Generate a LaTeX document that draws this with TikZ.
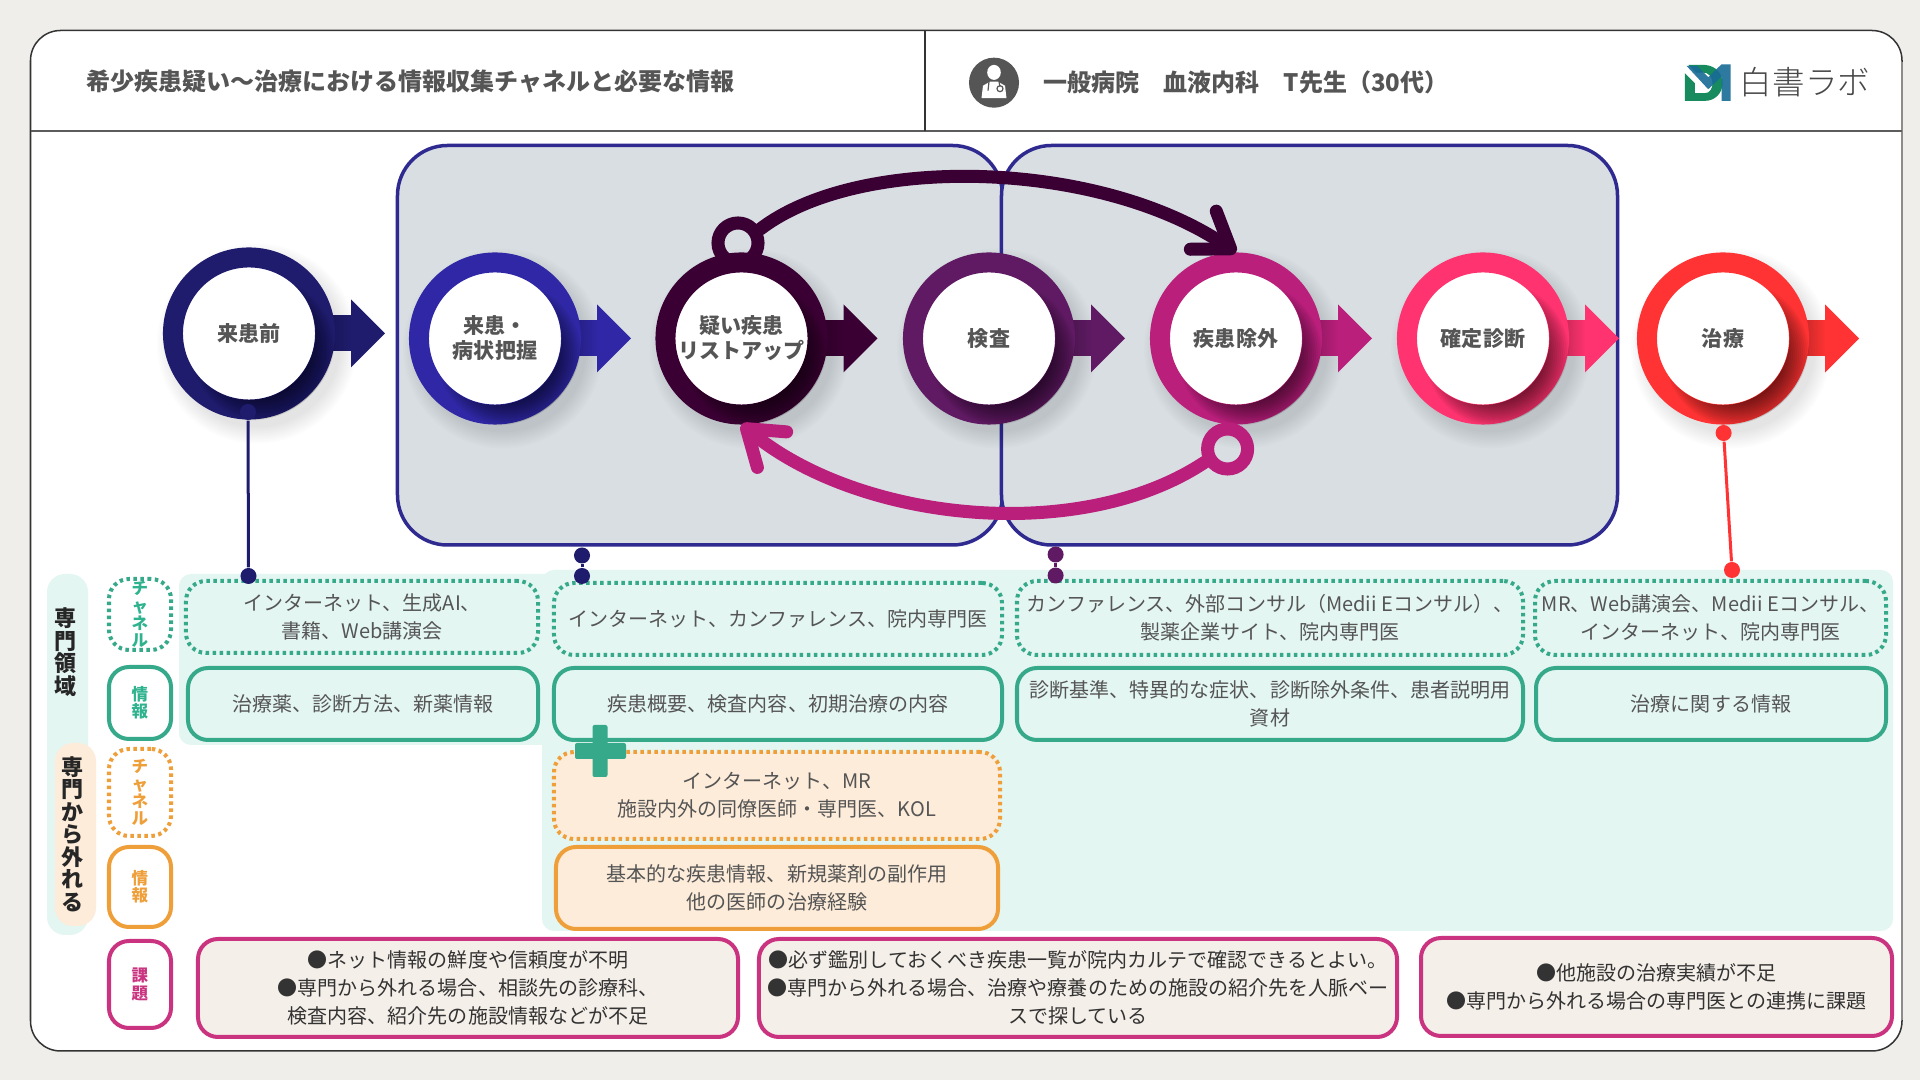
\documentclass[tikz,border=0pt]{standalone}
\usepackage{fontspec}
\setmainfont{Noto Sans CJK JP}
\newfontfamily\logofont{Noto Sans CJK JP Light}
\usetikzlibrary{arrows.meta}
\definecolor{paper}{HTML}{F0EEEA}
\definecolor{framec}{HTML}{333333}
\definecolor{txt}{HTML}{555555}
\definecolor{panelc}{HTML}{D9DEE3}
\definecolor{panelb}{HTML}{2F2A8F}
\definecolor{mint}{HTML}{E4F6F2}
\definecolor{peach}{HTML}{FDECD9}
\definecolor{teal}{HTML}{36A98A}
\definecolor{tealt}{HTML}{2FB38F}
\definecolor{orng}{HTML}{EF9F3A}
\definecolor{mag}{HTML}{C93380}
\definecolor{cream}{HTML}{F5EFE9}
\definecolor{logog}{HTML}{178A5E}
\definecolor{logob}{HTML}{176B96}
\definecolor{cA}{HTML}{1F1C6E}
\definecolor{cB}{HTML}{2F27A5}
\definecolor{cC}{HTML}{3A0033}
\definecolor{cD}{HTML}{5F1A63}
\definecolor{cE}{HTML}{BB1F7C}
\definecolor{cF}{HTML}{FF3370}
\definecolor{cG}{HTML}{FF3333}
\newcommand{\FS}[2]{\fontsize{#1cm}{#2cm}\selectfont}
\tikzset{
  plate/.style={inner sep=0pt,line width=0.04cm,rounded corners=0.2cm,align=center,text=txt,font=\FS{.2}{.28}},
  dotline/.style={dash pattern=on 0.035cm off 0.035cm},
  tealdot/.style={plate,draw=teal,fill=mint,dotline},
  tealbox/.style={plate,draw=teal,fill=mint},
  orngdot/.style={plate,draw=orng,fill=peach,dotline},
  orngbox/.style={plate,draw=orng,fill=peach},
  issuebox/.style={plate,draw=mag,fill=cream,text=black!80},
  taglabel/.style={plate,fill=white,font=\bfseries\FS{.165}{.172}},
  tagteald/.style={taglabel,draw=teal,text=tealt,dotline},
  tagteal/.style={taglabel,draw=teal,text=tealt},
  tagorngd/.style={taglabel,draw=orng,text=orng,dotline},
  tagorng/.style={taglabel,draw=orng,text=orng},
  tagmag/.style={taglabel,draw=mag,text=mag},
  panelbox/.style={inner sep=0pt,draw=panelb,fill=panelc,line width=0.035cm,rounded corners=0.5cm},
  sidelabel/.style={inner sep=0pt,align=center,text=black!85,font=\bfseries\FS{.22}{.225}},
  stagering/.style={circle,inner sep=0pt,minimum size=1.52cm,line width=0.2cm,fill=white,align=center,text=txt,font=\bfseries\FS{.21}{.25}},
  pin/.style={circle,inner sep=0pt,minimum size=0.16cm},
  wire/.style={line width=0.03cm},
  loopring/.style={circle,inner sep=0pt,minimum size=0.4cm,line width=0.13cm},
  loopline/.style={line width=0.13cm,line cap=round,-{Straight Barb[length=0.33cm,width=0.46cm,round]}},
  headtext/.style={inner sep=0pt,text=txt,font=\bfseries\FS{.24}{.28}}
}
\newcommand{\boxnode}[7]{%
  \pgfmathsetmacro\bw{(#4-#2-2)*0.01}\pgfmathsetmacro\bh{(#5-#3-2)*0.01}%
  \pgfmathsetmacro\bx{(#2+#4)/2}\pgfmathsetmacro\by{(#3+#5)/2}%
  \node[#6,minimum width=\bw cm,minimum height=\bh cm] (#1) at (\bx,\by) {#7};}
\newcommand{\stagenode}[5]{%
  \begin{scope}[shift={(#2,#3)}]
    \foreach \rr in {100,98,...,84} {\fill[black,opacity=.012] (8,10) circle (\rr*0.01cm);}
    \shade[left color=#4!60!black,right color=#4] (60,-17.5) rectangle (103,17.5);
    \fill[#4] (102,-34) -- (136,0) -- (102,34) -- cycle;
    \node[stagering,draw=#4] (#1) at (0,0) {#5};
    \begin{scope}[even odd rule]
      \clip (0,0) circle (0.87cm) (0,0) circle (0.665cm);
      \foreach \rr in {72,70,...,48} {\fill[black,opacity=.05] (14,16) circle (\rr*0.01cm);}
    \end{scope}
  \end{scope}}
\begin{document}
\begin{tikzpicture}[x=0.01cm,y=-0.01cm]
\useasboundingbox (0,0) rectangle (1920,1080);
\fill[paper] (0,0) rectangle (1920,1080);
% frame
\draw[framec,fill=white,line width=0.015cm,rounded corners=0.3cm] (30.5,30.5) rectangle (1902,1051);
\draw[black!45,line width=0.018cm] (1902,62) -- (1902,1020);
\draw[framec!80,line width=0.018cm] (30.5,131) -- (1902,131);
\draw[framec,line width=0.012cm] (925,30.5) -- (925,131);
% header
\node[headtext,anchor=west] (title) at (86,82) {希少疾患疑い〜治療における情報収集チャネルと必要な情報};
\node[headtext,anchor=west] (who) at (1043,82) {一般病院　血液内科　T先生（30代）};
% doctor icon
\begin{scope}[shift={(994,82.7)}]
  \fill[txt] (0,0) circle (0.25cm);
  \fill[white] (0,-10.3) ellipse (0.068cm and 0.075cm);
  \fill[white] (-12.5,15.5) -- (-11,3) -- (-4,-1) -- (4,-1) -- (11,3) -- (12.5,15.5) -- cycle;
  \draw[txt,line width=0.012cm] (-5,-1) -- (-6,8) (5,-1) -- (6,4);
  \draw[txt,line width=0.012cm] (6,6) circle (0.03cm);
\end{scope}
% logo
\begin{scope}[shift={(1640,30)},x=0.00333cm,y=-0.00333cm]
  \fill[logog] (145,105) -- (195,105) .. controls (232,108) and (248,135) .. (248,160) .. controls (248,190) and (225,213) .. (195,213) -- (135,213) -- (135,130) -- (165,160) -- (165,190) -- (195,190) .. controls (210,190) and (218,175) .. (218,160) .. controls (218,140) and (205,128) .. (190,128) -- (168,128) -- cycle;
  \fill[logob,opacity=.9] (140,108) -- (172,108) -- (205,142) -- (245,103) -- (272,103) -- (272,213) -- (245,213) -- (245,140) -- (205,178) -- cycle;
\end{scope}
\node[inner sep=0pt,text=black!72,font=\logofont\FS{.325}{.33}] (logotext) at (1805,82) {白書ラボ};
% panels
\boxnode{panelL}{396.5}{144.5}{1003.5}{546}{panelbox}{}
\boxnode{panelR}{1000.5}{144.5}{1618.5}{546}{panelbox}{}
% mint background
\fill[mint,rounded corners=0.18cm] (47,574) rectangle (88,935);
\fill[mint,rounded corners=0.12cm] (179,574) rectangle (560,745);
\fill[mint,rounded corners=0.12cm] (542,570) rectangle (1893,931);
\fill[peach,rounded corners=0.18cm] (55,743) rectangle (96,926);
\node[sidelabel] (side1) at (66,652) {専\\門\\領\\域};
\node[sidelabel] (side2) at (73,834) {専\\門\\か\\ら\\外\\れ\\る};
% tags
\boxnode{tagC1}{108}{578}{172}{651}{tagteald}{チ\\ャ\\ネ\\ル}
\boxnode{tagI1}{108}{666}{172}{740}{tagteal}{情\\報}
\boxnode{tagC2}{108}{748}{172}{837}{tagorngd}{チ\\ャ\\ネ\\ル}
\boxnode{tagI2}{108}{846}{172}{928}{tagorng}{情\\報}
\boxnode{tagK}{108}{940}{172}{1029}{tagmag}{課\\題}
% channel and information plates
\boxnode{c1}{185}{580}{539}{654}{tealdot}{インターネット、生成AI、\\書籍、Web講演会}
\boxnode{c2}{553}{582}{1003}{656}{tealdot}{インターネット、カンファレンス、院内専門医}
\boxnode{c3}{1016}{580}{1524}{656}{tealdot}{カンファレンス、外部コンサル（Medii Eコンサル）、\\製薬企業サイト、院内専門医}
\boxnode{c4}{1534}{580}{1887}{656}{tealdot}{MR、Web講演会、Medii Eコンサル、\\インターネット、院内専門医}
\boxnode{i1}{187}{667}{539}{741}{tealbox}{治療薬、診断方法、新薬情報}
\boxnode{i2}{553}{667}{1003}{741}{tealbox}{疾患概要、検査内容、初期治療の内容}
\boxnode{i3}{1016}{667}{1524}{741}{tealbox}{診断基準、特異的な症状、診断除外条件、患者説明用\\資材}
\boxnode{i4}{1535}{667}{1887}{741}{tealbox}{治療に関する情報}
\boxnode{o1}{553}{751}{1001}{840}{orngdot}{インターネット、MR\\施設内外の同僚医師・専門医、KOL}
\boxnode{o2}{555}{846}{999}{930}{orngbox}{基本的な疾患情報、新規薬剤の副作用\\他の医師の治療経験}
\boxnode{k1}{197}{938}{739}{1038}{issuebox}{●ネット情報の鮮度や信頼度が不明\\●専門から外れる場合、相談先の診療科、\\検査内容、紹介先の施設情報などが不足}
\boxnode{k2}{758}{938}{1398}{1038}{issuebox}{●必ず鑑別しておくべき疾患一覧が院内カルテで確認できるとよい。\\●専門から外れる場合、治療や療養のための施設の紹介先を人脈ベー\\スで探している}
\boxnode{k3}{1420}{937}{1893}{1037}{issuebox}{●他施設の治療実績が不足\\●専門から外れる場合の専門医との連携に課題}
% plus
\fill[teal,rounded corners=0.02cm] (592.5,725) rectangle (607.5,777);
\fill[teal,rounded corners=0.02cm] (575,743) rectangle (626,759);
% stages
\stagenode{nA}{249}{333.5}{cA}{来患前}
\stagenode{nB}{495}{338.5}{cB}{来患・\\病状把握}
\stagenode{nC}{741.5}{338.5}{cC}{疑い疾患\\リストアップ}
\stagenode{nD}{989}{338.5}{cD}{検査}
\stagenode{nE}{1236}{338.5}{cE}{疾患除外}
\stagenode{nF}{1483}{338.5}{cF}{確定診断}
\stagenode{nG}{1723}{338.5}{cG}{治療}
% loops
\node[loopring,draw=cC] (ringA) at (738,243) {};
\node[loopring,draw=cE] (ringE) at (1227.6,449) {};
\draw[loopline,cC] (ringA.32) .. controls (860,153) and (1100,160) .. (nE.north);
\draw[loopline,cE] (ringE.210) .. controls (1080,545) and (860,522) .. (nC.south);
% pins
\node[pin,fill=cA] (pA0) at (248,412) {};
\node[pin,fill=cA] (pA1) at (248.5,576) {};
\draw[wire,cA] (pA0) -- (pA1);
\node[pin,fill=cA] (pB0) at (582,555.5) {};
\node[pin,fill=cA] (pB1) at (582,576) {};
\draw[wire,cA] (pB0) -- (pB1);
\node[pin,fill=cD] (pD0) at (1055.6,554.5) {};
\node[pin,fill=cD] (pD1) at (1055.6,575.5) {};
\draw[wire,cD] (pD0) -- (pD1);
\node[pin,fill=cG] (pG0) at (1723.6,433) {};
\node[pin,fill=cG] (pG1) at (1732,570) {};
\draw[wire,cG] (pG0) -- (pG1);
\end{tikzpicture}
\end{document}
